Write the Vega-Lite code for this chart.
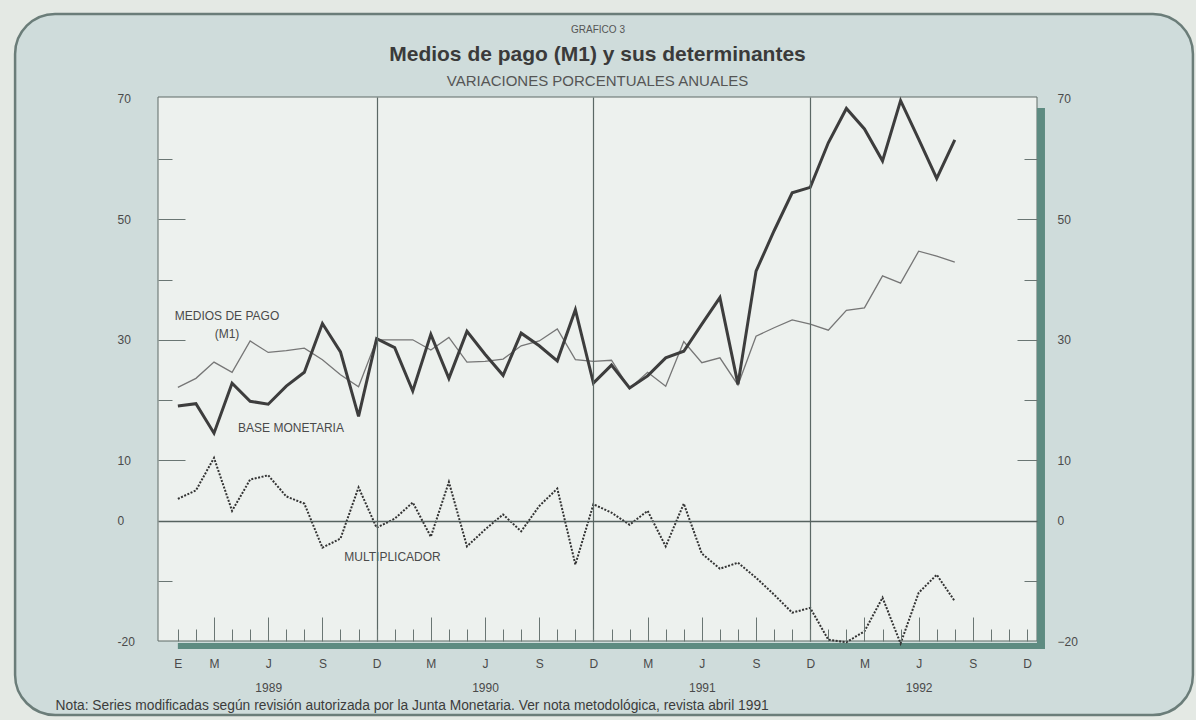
{
  "$schema": "https://vega.github.io/schema/vega-lite/v6.json",
  "width": 879,
  "height": 544,
  "autosize": {"type": "none"},
  "padding": {"left": 158, "top": 97, "right": 159, "bottom": 79},
  "background": "#e4e9e4",
  "config": {"view": {"stroke": null}, "font": "Liberation Sans"},
  "title": {
    "text": "Medios de pago (M1) y sus determinantes",
    "subtitle": "VARIACIONES PORCENTUALES ANUALES",
    "anchor": "middle",
    "font": "Liberation Sans",
    "fontSize": 21,
    "fontWeight": "bold",
    "color": "#3a3a3a",
    "subtitleFont": "Liberation Sans",
    "subtitleFontSize": 15,
    "subtitleColor": "#555555",
    "subtitlePadding": 9,
    "offset": -76
  },
  "resolve": {"axis": {"x": "independent", "y": "independent"}},
  "datasets": {
    "series": [
      {"mes":0,"serie":"Base monetaria","valor":19.0},{"mes":1,"serie":"Base monetaria","valor":19.4},{"mes":2,"serie":"Base monetaria","valor":14.5},{"mes":3,"serie":"Base monetaria","valor":22.8},{"mes":4,"serie":"Base monetaria","valor":19.8},{"mes":5,"serie":"Base monetaria","valor":19.3},{"mes":6,"serie":"Base monetaria","valor":22.3},{"mes":7,"serie":"Base monetaria","valor":24.6},{"mes":8,"serie":"Base monetaria","valor":32.7},{"mes":9,"serie":"Base monetaria","valor":28.0},{"mes":10,"serie":"Base monetaria","valor":17.3},{"mes":11,"serie":"Base monetaria","valor":30.2},
      {"mes":12,"serie":"Base monetaria","valor":28.7},{"mes":13,"serie":"Base monetaria","valor":21.5},{"mes":14,"serie":"Base monetaria","valor":30.9},{"mes":15,"serie":"Base monetaria","valor":23.6},{"mes":16,"serie":"Base monetaria","valor":31.4},{"mes":17,"serie":"Base monetaria","valor":27.6},{"mes":18,"serie":"Base monetaria","valor":24.1},{"mes":19,"serie":"Base monetaria","valor":31.1},{"mes":20,"serie":"Base monetaria","valor":29.0},{"mes":21,"serie":"Base monetaria","valor":26.5},{"mes":22,"serie":"Base monetaria","valor":35.0},{"mes":23,"serie":"Base monetaria","valor":22.8},
      {"mes":24,"serie":"Base monetaria","valor":25.8},{"mes":25,"serie":"Base monetaria","valor":22.0},{"mes":26,"serie":"Base monetaria","valor":24.0},{"mes":27,"serie":"Base monetaria","valor":27.0},{"mes":28,"serie":"Base monetaria","valor":28.1},{"mes":29,"serie":"Base monetaria","valor":32.6},{"mes":30,"serie":"Base monetaria","valor":37.0},{"mes":31,"serie":"Base monetaria","valor":22.6},{"mes":32,"serie":"Base monetaria","valor":41.4},{"mes":33,"serie":"Base monetaria","valor":48.1},{"mes":34,"serie":"Base monetaria","valor":54.4},{"mes":35,"serie":"Base monetaria","valor":55.3},
      {"mes":36,"serie":"Base monetaria","valor":62.7},{"mes":37,"serie":"Base monetaria","valor":68.4},{"mes":38,"serie":"Base monetaria","valor":65.0},{"mes":39,"serie":"Base monetaria","valor":59.7},{"mes":40,"serie":"Base monetaria","valor":69.7},{"mes":41,"serie":"Base monetaria","valor":63.3},{"mes":42,"serie":"Base monetaria","valor":56.8},{"mes":43,"serie":"Base monetaria","valor":63.2},
      {"mes":0,"serie":"Medios de pago (M1)","valor":22.1},{"mes":1,"serie":"Medios de pago (M1)","valor":23.6},{"mes":2,"serie":"Medios de pago (M1)","valor":26.3},{"mes":3,"serie":"Medios de pago (M1)","valor":24.6},{"mes":4,"serie":"Medios de pago (M1)","valor":29.8},{"mes":5,"serie":"Medios de pago (M1)","valor":27.9},{"mes":6,"serie":"Medios de pago (M1)","valor":28.2},{"mes":7,"serie":"Medios de pago (M1)","valor":28.6},{"mes":8,"serie":"Medios de pago (M1)","valor":26.7},{"mes":9,"serie":"Medios de pago (M1)","valor":24.2},{"mes":10,"serie":"Medios de pago (M1)","valor":22.2},{"mes":11,"serie":"Medios de pago (M1)","valor":30.0},
      {"mes":12,"serie":"Medios de pago (M1)","valor":30.0},{"mes":13,"serie":"Medios de pago (M1)","valor":30.0},{"mes":14,"serie":"Medios de pago (M1)","valor":28.3},{"mes":15,"serie":"Medios de pago (M1)","valor":30.4},{"mes":16,"serie":"Medios de pago (M1)","valor":26.3},{"mes":17,"serie":"Medios de pago (M1)","valor":26.4},{"mes":18,"serie":"Medios de pago (M1)","valor":26.8},{"mes":19,"serie":"Medios de pago (M1)","valor":29.0},{"mes":20,"serie":"Medios de pago (M1)","valor":29.8},{"mes":21,"serie":"Medios de pago (M1)","valor":31.8},{"mes":22,"serie":"Medios de pago (M1)","valor":26.7},{"mes":23,"serie":"Medios de pago (M1)","valor":26.4},
      {"mes":24,"serie":"Medios de pago (M1)","valor":26.6},{"mes":25,"serie":"Medios de pago (M1)","valor":21.9},{"mes":26,"serie":"Medios de pago (M1)","valor":24.6},{"mes":27,"serie":"Medios de pago (M1)","valor":22.3},{"mes":28,"serie":"Medios de pago (M1)","valor":29.7},{"mes":29,"serie":"Medios de pago (M1)","valor":26.2},{"mes":30,"serie":"Medios de pago (M1)","valor":27.0},{"mes":31,"serie":"Medios de pago (M1)","valor":22.5},{"mes":32,"serie":"Medios de pago (M1)","valor":30.6},{"mes":33,"serie":"Medios de pago (M1)","valor":32.0},{"mes":34,"serie":"Medios de pago (M1)","valor":33.3},{"mes":35,"serie":"Medios de pago (M1)","valor":32.6},
      {"mes":36,"serie":"Medios de pago (M1)","valor":31.6},{"mes":37,"serie":"Medios de pago (M1)","valor":34.9},{"mes":38,"serie":"Medios de pago (M1)","valor":35.3},{"mes":39,"serie":"Medios de pago (M1)","valor":40.6},{"mes":40,"serie":"Medios de pago (M1)","valor":39.4},{"mes":41,"serie":"Medios de pago (M1)","valor":44.7},{"mes":42,"serie":"Medios de pago (M1)","valor":43.9},{"mes":43,"serie":"Medios de pago (M1)","valor":42.9},
      {"mes":0,"serie":"Multiplicador","valor":3.6},{"mes":1,"serie":"Multiplicador","valor":5.0},{"mes":2,"serie":"Multiplicador","valor":10.4},{"mes":3,"serie":"Multiplicador","valor":1.6},{"mes":4,"serie":"Multiplicador","valor":6.8},{"mes":5,"serie":"Multiplicador","valor":7.5},{"mes":6,"serie":"Multiplicador","valor":4.0},{"mes":7,"serie":"Multiplicador","valor":2.8},{"mes":8,"serie":"Multiplicador","valor":-4.5},{"mes":9,"serie":"Multiplicador","valor":-3.0},{"mes":10,"serie":"Multiplicador","valor":5.5},{"mes":11,"serie":"Multiplicador","valor":-1.2},
      {"mes":12,"serie":"Multiplicador","valor":0.3},{"mes":13,"serie":"Multiplicador","valor":3.0},{"mes":14,"serie":"Multiplicador","valor":-2.7},{"mes":15,"serie":"Multiplicador","valor":6.4},{"mes":16,"serie":"Multiplicador","valor":-4.3},{"mes":17,"serie":"Multiplicador","valor":-1.5},{"mes":18,"serie":"Multiplicador","valor":1.0},{"mes":19,"serie":"Multiplicador","valor":-1.8},{"mes":20,"serie":"Multiplicador","valor":2.4},{"mes":21,"serie":"Multiplicador","valor":5.3},{"mes":22,"serie":"Multiplicador","valor":-7.3},{"mes":23,"serie":"Multiplicador","valor":2.7},
      {"mes":24,"serie":"Multiplicador","valor":1.3},{"mes":25,"serie":"Multiplicador","valor":-0.7},{"mes":26,"serie":"Multiplicador","valor":1.6},{"mes":27,"serie":"Multiplicador","valor":-4.3},{"mes":28,"serie":"Multiplicador","valor":2.8},{"mes":29,"serie":"Multiplicador","valor":-5.5},{"mes":30,"serie":"Multiplicador","valor":-8.0},{"mes":31,"serie":"Multiplicador","valor":-7.0},{"mes":32,"serie":"Multiplicador","valor":-9.5},{"mes":33,"serie":"Multiplicador","valor":-12.3},{"mes":34,"serie":"Multiplicador","valor":-15.3},{"mes":35,"serie":"Multiplicador","valor":-14.5},
      {"mes":36,"serie":"Multiplicador","valor":-19.8},{"mes":37,"serie":"Multiplicador","valor":-20.2},{"mes":38,"serie":"Multiplicador","valor":-18.4},{"mes":39,"serie":"Multiplicador","valor":-12.8},{"mes":40,"serie":"Multiplicador","valor":-20.4},{"mes":41,"serie":"Multiplicador","valor":-12.0},{"mes":42,"serie":"Multiplicador","valor":-9.0},{"mes":43,"serie":"Multiplicador","valor":-13.4}
    ]
  },
  "layer": [
    {
      "data": {"values": [{}]},
      "mark": {"type": "rect", "cornerRadius": 40, "fill": "#cfdcdb", "stroke": "#6b7d79", "strokeWidth": 2.5},
      "encoding": {
        "x": {"datum": -9.01, "type": "quantitative", "scale": {"domain": [-1.1, 47.55], "nice": false, "zero": false}, "axis": null},
        "x2": {"datum": 56.18},
        "y": {"datum": 84.08, "type": "quantitative", "scale": {"domain": [-20, 70.3], "nice": false, "zero": false}, "axis": null},
        "y2": {"datum": -32.28}
      }
    },
    {
      "data": {"values": [{}]},
      "mark": {"type": "rect", "fill": "#edf1ee", "stroke": "#5e6a67", "strokeWidth": 1},
      "encoding": {
        "x": {"datum": -1.1, "type": "quantitative", "scale": {"domain": [-1.1, 47.55], "nice": false, "zero": false}, "axis": null},
        "x2": {"datum": 47.55},
        "y": {"datum": -20, "type": "quantitative", "scale": {"domain": [-20, 70.3], "nice": false, "zero": false}, "axis": null},
        "y2": {"datum": 70.3}
      }
    },
    {
      "data": {"values": [{}]},
      "mark": {"type": "rule", "color": "#5e8b81", "strokeWidth": 6},
      "encoding": {
        "x": {"datum": 0, "type": "quantitative", "scale": {"domain": [-1.1, 47.55], "nice": false, "zero": false}, "axis": null},
        "x2": {"datum": 47.99},
        "y": {"datum": -20.83, "type": "quantitative", "scale": {"domain": [-20, 70.3], "nice": false, "zero": false}, "axis": null}
      }
    },
    {
      "data": {"values": [{}]},
      "mark": {"type": "rule", "color": "#5e8b81", "strokeWidth": 8},
      "encoding": {
        "x": {"datum": 47.77, "type": "quantitative", "scale": {"domain": [-1.1, 47.55], "nice": false, "zero": false}, "axis": null},
        "y": {
          "datum": 68.47, "type": "quantitative",
          "scale": {"domain": [-20, 70.3], "nice": false, "zero": false},
          "axis": {
            "orient": "right",
            "values": [-20, -10, 0, 10, 20, 30, 40, 50, 60, 70],
            "labelExpr": "indexof([70, 50, 30, 10, 0, -20], datum.value) >= 0 ? datum.label : ''",
            "labelAlign": "left",
            "labelBaseline": "middle",
            "labelFont": "Liberation Sans",
            "labelFontSize": 12,
            "labelColor": "#4a4a4a",
            "tickColor": "#6a7673",
            "tickSize": {"condition": [{"test": "datum.value == 50 || datum.value == 30 || datum.value == 10", "value": -20}, {"test": "datum.value == 0 || datum.value == 70 || datum.value == -20", "value": 0}], "value": -13},
            "labelPadding": {"condition": [{"test": "datum.value == 50 || datum.value == 30 || datum.value == 10", "value": 40}, {"test": "datum.value == 0 || datum.value == 70 || datum.value == -20", "value": 20}], "value": 33},
            "grid": false,
            "domain": false,
            "zindex": 1,
            "title": null
          }
        },
        "y2": {"datum": -21.33}
      }
    },
    {
      "data": {"name": "series"},
      "transform": [{"filter": "datum.serie == 'Medios de pago (M1)'"}],
      "mark": {"type": "line", "color": "#767676", "strokeWidth": 1.3},
      "encoding": {
        "x": {
          "field": "mes", "type": "quantitative",
          "scale": {"domain": [-1.1, 47.55], "nice": false, "zero": false},
          "axis": {
            "orient": "bottom",
            "values": [0,1,2,3,4,5,6,7,8,9,10,11,12,13,14,15,16,17,18,19,20,21,22,23,24,25,26,27,28,29,30,31,32,33,34,35,36,37,38,39,40,41,42,43,44,45,46,47],
            "labelExpr": "datum.value == 0 ? 'E' : datum.value % 12 == 2 ? 'M' : datum.value % 12 == 5 ? ['J', '' + (1989 + floor(datum.value / 12))] : datum.value % 12 == 8 ? 'S' : datum.value % 12 == 11 ? 'D' : ''",
            "labelOverlap": false,
            "labelFlush": false,
            "labelBaseline": "top",
            "labelLineHeight": 24,
            "labelFont": "Liberation Sans",
            "labelFontSize": 12,
            "labelColor": "#4a4a4a",
            "tickColor": "#6a7673",
            "tickWidth": 1,
            "tickSize": {"condition": {"test": "datum.value % 12 == 2 || datum.value % 12 == 5 || datum.value % 12 == 8", "value": -24}, "value": -12},
            "labelPadding": {"condition": {"test": "datum.value % 12 == 2 || datum.value % 12 == 5 || datum.value % 12 == 8", "value": 41}, "value": 29},
            "grid": true,
            "gridColor": "#5b6865",
            "gridWidth": 1.2,
            "gridOpacity": {"condition": {"test": "datum.value % 12 == 11 && datum.value < 40", "value": 1}, "value": 0},
            "domain": false,
            "zindex": 1,
            "title": "Nota: Series modificadas según revisión autorizada por la Junta Monetaria. Ver nota metodológica, revista abril 1991",
            "titleX": -103,
            "titleY": 64,
            "titleAlign": "left",
            "titleBaseline": "middle",
            "titleAngle": 0,
            "titleFont": "Liberation Sans",
            "titleFontSize": 13.8,
            "titleFontWeight": "normal",
            "titleColor": "#3c3c3c"
          }
        },
        "y": {
          "field": "valor", "type": "quantitative",
          "scale": {"domain": [-20, 70.3], "nice": false, "zero": false},
          "axis": {
            "orient": "left",
            "values": [-20, -10, 0, 10, 20, 30, 40, 50, 60, 70],
            "labelExpr": "indexof([70, 50, 30, 10, 0, -20], datum.value) >= 0 ? '' + datum.value : ''",
            "labelAlign": "left",
            "labelBaseline": "middle",
            "labelFont": "Liberation Sans",
            "labelFontSize": 12,
            "labelColor": "#4a4a4a",
            "tickColor": "#6a7673",
            "tickSize": {"condition": [{"test": "datum.value == 50 || datum.value == 30 || datum.value == 10", "value": -27}, {"test": "datum.value == 0 || datum.value == 70 || datum.value == -20", "value": 0}], "value": -14},
            "labelPadding": {"condition": [{"test": "datum.value == 50 || datum.value == 30 || datum.value == 10", "value": 68}, {"test": "datum.value == 0 || datum.value == 70 || datum.value == -20", "value": 41}], "value": 55},
            "grid": true,
            "gridColor": "#56625f",
            "gridWidth": 1.5,
            "gridOpacity": {"condition": {"test": "datum.value == 0", "value": 1}, "value": 0},
            "domain": false,
            "zindex": 1,
            "title": "GRAFICO 3",
            "titleAngle": 0,
            "titleX": 439.5,
            "titleY": -68,
            "titleAlign": "center",
            "titleBaseline": "middle",
            "titleFont": "Liberation Sans",
            "titleFontSize": 10,
            "titleFontWeight": "normal",
            "titleColor": "#555555"
          }
        }
      }
    },
    {
      "data": {"name": "series"},
      "transform": [{"filter": "datum.serie == 'Base monetaria'"}],
      "mark": {"type": "line", "color": "#3d3d3d", "strokeWidth": 3},
      "encoding": {
        "x": {"field": "mes", "type": "quantitative", "scale": {"domain": [-1.1, 47.55], "nice": false, "zero": false}, "axis": null},
        "y": {"field": "valor", "type": "quantitative", "scale": {"domain": [-20, 70.3], "nice": false, "zero": false}, "axis": null}
      }
    },
    {
      "data": {"name": "series"},
      "transform": [{"filter": "datum.serie == 'Multiplicador'"}],
      "mark": {"type": "line", "color": "#333333", "strokeWidth": 2, "strokeDash": [2, 1.5]},
      "encoding": {
        "x": {"field": "mes", "type": "quantitative", "scale": {"domain": [-1.1, 47.55], "nice": false, "zero": false}, "axis": null},
        "y": {"field": "valor", "type": "quantitative", "scale": {"domain": [-20, 70.3], "nice": false, "zero": false}, "axis": null}
      }
    },
    {
      "data": {"values": [{}]},
      "mark": {"type": "text", "text": ["MEDIOS DE PAGO", "(M1)"], "font": "Liberation Sans", "fontSize": 12, "lineHeight": 18, "color": "#4a4a4a", "align": "center", "baseline": "middle"},
      "encoding": {
        "x": {"datum": 2.72, "type": "quantitative", "scale": {"domain": [-1.1, 47.55], "nice": false, "zero": false}, "axis": null},
        "y": {"datum": 33.95, "type": "quantitative", "scale": {"domain": [-20, 70.3], "nice": false, "zero": false}, "axis": null}
      }
    },
    {
      "data": {"values": [{}]},
      "mark": {"type": "text", "text": "BASE MONETARIA", "font": "Liberation Sans", "fontSize": 12, "color": "#4a4a4a", "align": "center", "baseline": "middle"},
      "encoding": {
        "x": {"datum": 6.26, "type": "quantitative", "scale": {"domain": [-1.1, 47.55], "nice": false, "zero": false}, "axis": null},
        "y": {"datum": 15.36, "type": "quantitative", "scale": {"domain": [-20, 70.3], "nice": false, "zero": false}, "axis": null}
      }
    },
    {
      "data": {"values": [{}]},
      "mark": {"type": "text", "text": "MULTIPLICADOR", "font": "Liberation Sans", "fontSize": 12, "color": "#4a4a4a", "align": "center", "baseline": "middle"},
      "encoding": {
        "x": {"datum": 11.88, "type": "quantitative", "scale": {"domain": [-1.1, 47.55], "nice": false, "zero": false}, "axis": null},
        "y": {"datum": -6.06, "type": "quantitative", "scale": {"domain": [-20, 70.3], "nice": false, "zero": false}, "axis": null}
      }
    }
  ]
}
